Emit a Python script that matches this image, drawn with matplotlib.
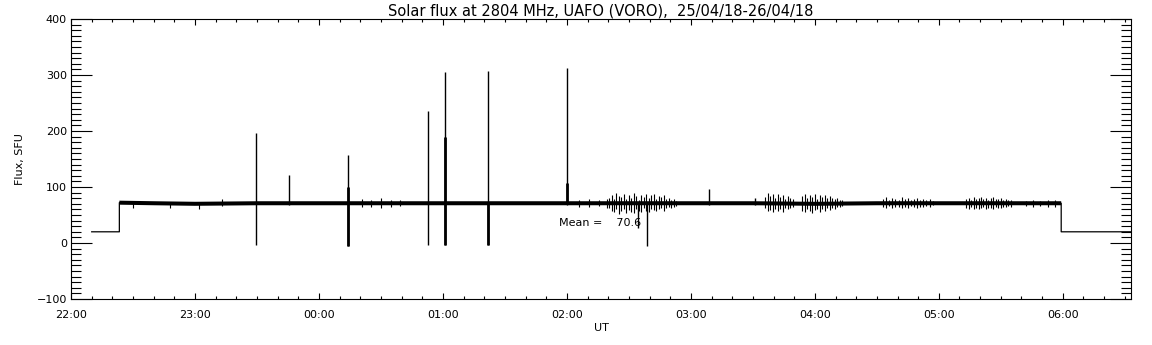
import matplotlib
matplotlib.use("Agg")
import matplotlib.pyplot as plt
from matplotlib.ticker import MultipleLocator, FuncFormatter

# Time in hours after 00:00 of 25/04/18 (values > 24 are on 26/04/18)
trace_t = [22.167, 22.39, 22.39, 22.67, 23.0, 23.5, 24.0, 24.5, 25.0, 25.5,
           26.0, 26.5, 27.0, 27.5, 28.0, 28.5, 29.0, 29.5, 29.987, 29.987, 30.6]
trace_v = [20, 20, 72, 71, 70, 71, 71, 71, 71, 71,
           71, 71, 71, 71, 70, 71, 71, 71, 71, 20, 20]

# Narrow spikes (thin lines)
spike_t = [23.495, 23.755, 24.237, 24.882, 25.018, 25.36, 26.003, 26.575, 26.648, 27.145, 27.52]
spike_lo = [-3, 68, -5, -4, -4, -4, 68, 26, -6, 68, 68]
spike_hi = [196, 121, 158, 235, 306, 308, 313, 72, 72, 96, 81]

# Spikes with a heavier core
core_t = [24.237, 25.018, 25.36, 26.003]
core_lo = [-5, -4, -4, 70]
core_hi = [100, 190, 72, 107]

# Noise hairs around the baseline
hair_t = [22.50, 22.80, 23.03, 23.22, 24.35, 24.42, 24.50, 24.58, 24.65,
          26.10, 26.18, 26.26, 26.32,
          26.34, 26.36, 26.38, 26.40, 26.42, 26.44, 26.46, 26.48, 26.50, 26.52,
          26.54, 26.56, 26.58, 26.60, 26.62, 26.64, 26.66, 26.68, 26.70, 26.72,
          26.74, 26.76, 26.78, 26.80, 26.82, 26.84, 26.86, 26.88,
          27.60, 27.62, 27.64, 27.66, 27.68, 27.70, 27.72, 27.74, 27.76, 27.78, 27.80, 27.82,
          27.90, 27.92, 27.94, 27.96, 27.98, 28.00, 28.02, 28.04, 28.06, 28.08,
          28.10, 28.12, 28.14, 28.16, 28.18, 28.20, 28.22,
          28.550, 28.575, 28.600, 28.625, 28.650, 28.675, 28.700, 28.725, 28.750,
          28.775, 28.800, 28.825, 28.850, 28.875, 28.900, 28.925, 28.950,
          29.22, 29.24, 29.26, 29.28, 29.30, 29.32, 29.34, 29.36, 29.38, 29.40,
          29.42, 29.44, 29.46, 29.48, 29.50, 29.52, 29.54, 29.56, 29.58,
          29.70, 29.76, 29.82, 29.88, 29.94]
hair_hi = [74, 74, 74, 78, 78, 76, 80, 77, 76,
           77, 78, 76, 79,
           80, 86, 78, 90, 84, 82, 88, 79, 86, 81,
           89, 84, 77, 86, 83, 88, 80, 85, 87, 79,
           84, 82, 86, 78, 81, 77, 79, 75,
           82, 90, 84, 88, 80, 87, 83, 86, 79, 84, 80, 78,
           84, 88, 80, 86, 83, 87, 79, 85, 82, 86,
           80, 84, 81, 78, 80, 77, 76,
           78, 82, 76, 80, 79, 77, 82, 78, 80,
           76, 79, 81, 77, 78, 76, 78, 75,
           78, 81, 77, 82, 79, 80, 83, 78, 81, 77,
           80, 82, 78, 79, 80, 77, 78, 76, 77,
           75, 76, 75, 76, 77]
hair_lo = [63, 62, 61, 66, 64, 65, 63, 65, 66,
           65, 64, 66, 63,
           62, 58, 55, 60, 52, 57, 61, 54, 59, 56,
           53, 60, 57, 55, 62, 58, 56, 61, 59, 57,
           60, 63, 58, 62, 64, 63, 65, 66,
           62, 57, 59, 55, 61, 58, 60, 56, 62, 61, 63, 64,
           58, 55, 60, 57, 54, 59, 61, 56, 60, 58,
           62, 59, 63, 61, 64, 64, 66,
           64, 62, 66, 63, 65, 64, 62, 65, 63,
           66, 64, 62, 65, 64, 66, 65, 67,
           63, 60, 64, 61, 63, 60, 62, 64, 61, 63,
           62, 60, 64, 63, 62, 65, 64, 66, 65,
           66, 65, 66, 65, 64]

mean_flux = 70.6

fig = plt.figure(figsize=(11.52, 3.45), dpi=100)
ax = fig.add_axes([71 / 1152, 1 - 299 / 345, 1060 / 1152, 280 / 345])

# thin trace incl. the low steps at both ends, thick band for the dense data
ax.plot(trace_t, trace_v, color="black", lw=0.9)
ax.plot(trace_t[2:-2], trace_v[2:-2], color="black", lw=2.9, solid_capstyle="butt")
ax.vlines(hair_t, hair_lo, hair_hi, color="black", lw=0.8)
ax.vlines(spike_t, spike_lo, spike_hi, color="black", lw=1.0)
ax.vlines(core_t, core_lo, core_hi, color="black", lw=2.0)

ax.text(25.94, 35, "Mean =    %.1f" % mean_flux, fontsize=8, va="center", ha="left")

ax.set_xlim(22, 30.55)
ax.set_ylim(-100, 400)
ax.xaxis.set_major_locator(MultipleLocator(1))
ax.xaxis.set_minor_locator(MultipleLocator(1 / 6))
ax.xaxis.set_major_formatter(FuncFormatter(lambda h, p: "%02d:00" % (int(round(h)) % 24)))
ax.yaxis.set_major_locator(MultipleLocator(100))
ax.yaxis.set_minor_locator(MultipleLocator(10))

ax.tick_params(axis="both", which="both", direction="in", top=True, right=True,
               width=0.8, labelsize=8)
ax.tick_params(axis="y", which="major", length=15, pad=3)
ax.tick_params(axis="y", which="minor", length=7)
ax.tick_params(axis="x", which="major", length=4.5, pad=8)
ax.tick_params(axis="x", which="minor", length=2.2)
for s in ax.spines.values():
    s.set_linewidth(0.8)

ax.set_title("Solar flux at 2804 MHz, UAFO (VORO),  25/04/18-26/04/18", fontsize=10.5, pad=2)
ax.set_xlabel("UT", fontsize=8, labelpad=2)
ax.set_ylabel("Flux, SFU", fontsize=8, labelpad=8)

fig.savefig("out.png", dpi=100)
